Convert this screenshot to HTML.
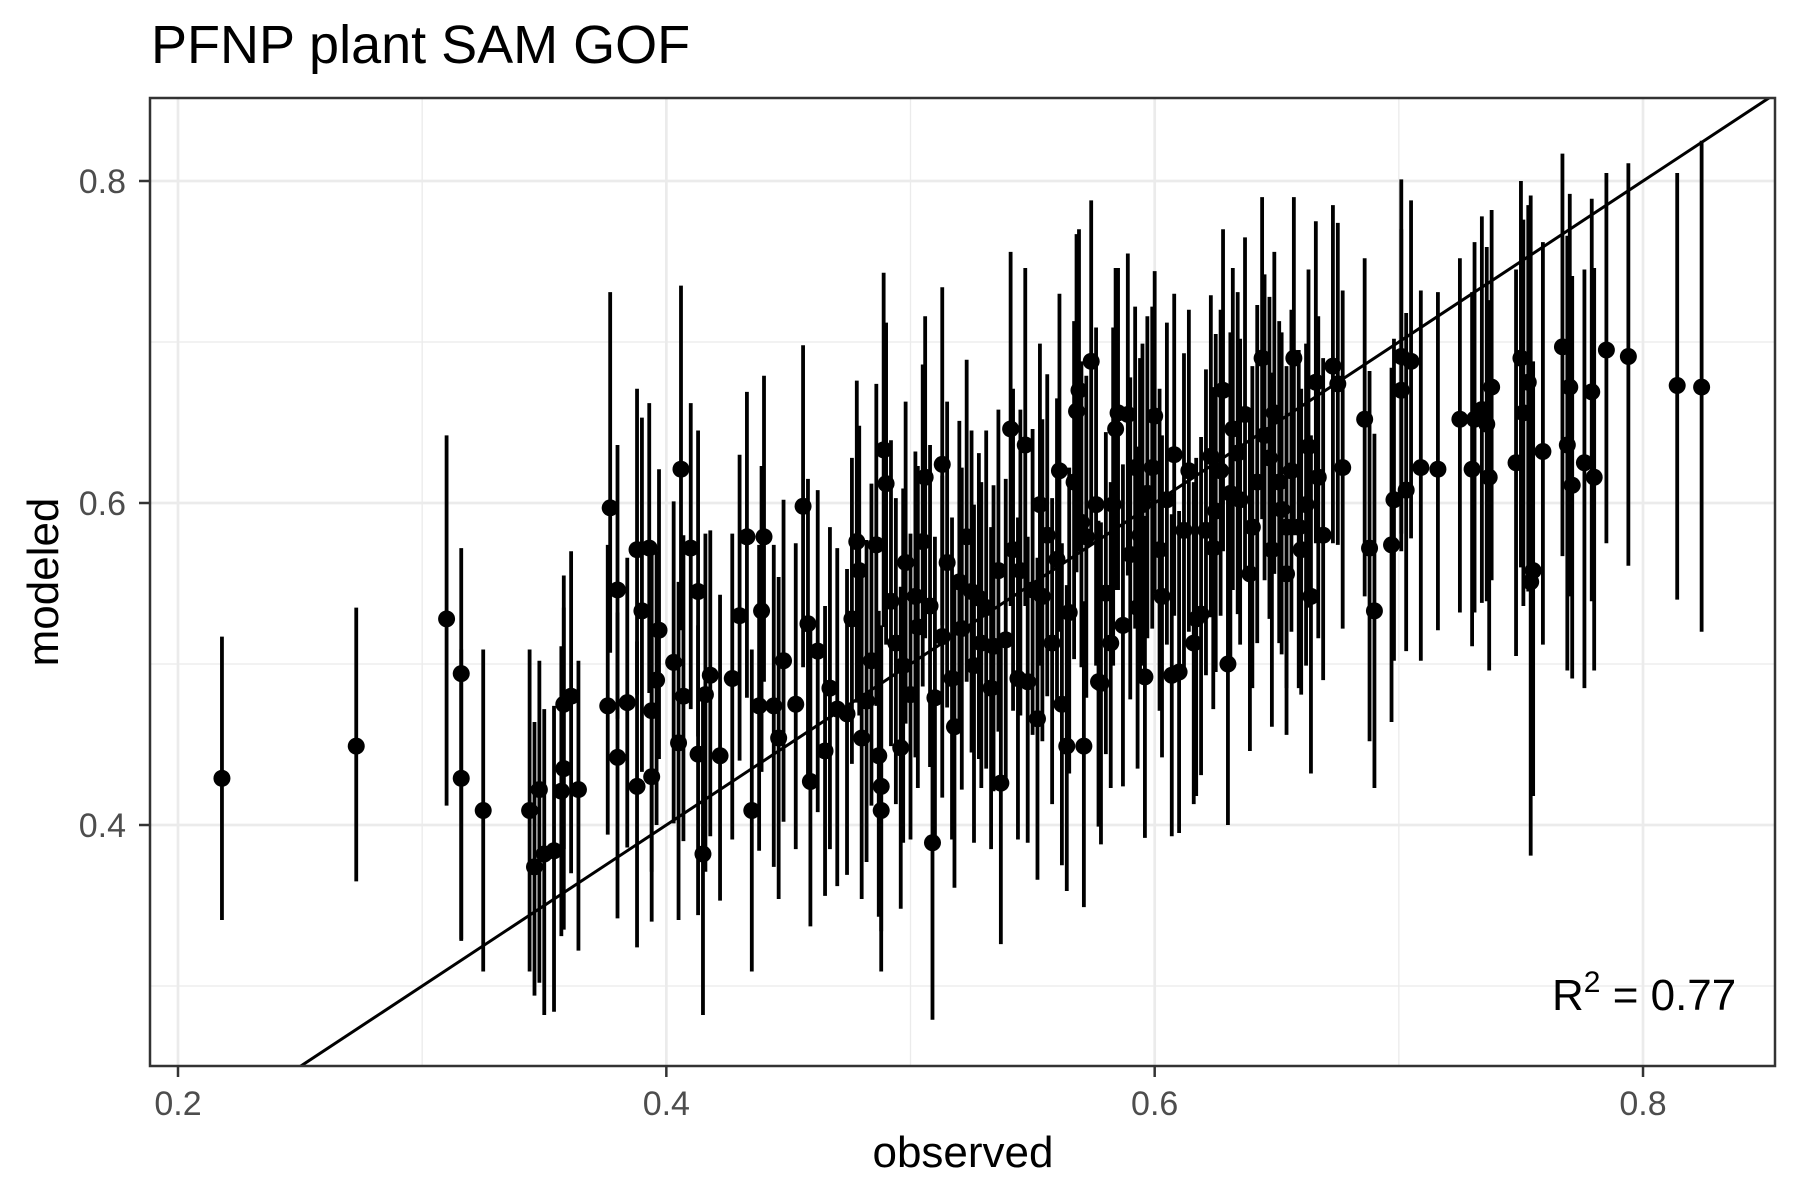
<!DOCTYPE html>
<html><head><meta charset="utf-8"><style>
html,body{margin:0;padding:0;background:#fff}
svg{display:block;font-family:"Liberation Sans",Arial,sans-serif}
</style></head><body>
<svg id="chart" width="1800" height="1200" viewBox="0 0 1800 1200">
<rect x="0" y="0" width="1800" height="1200" fill="#fff"/>
<text x="151" y="63" font-size="54" fill="#000">PFNP plant SAM GOF</text>
<g id="grid"></g>
<defs><clipPath id="pc"><rect x="150" y="98" width="1625" height="968"/></clipPath></defs>
<g id="marks" clip-path="url(#pc)"></g>
<rect x="150" y="98" width="1625" height="968" fill="none" stroke="#333" stroke-width="2.5"/>
<g id="axes"></g>
<text x="963" y="1167" font-size="44" text-anchor="middle" fill="#000">observed</text>
<text transform="translate(58,582) rotate(-90)" font-size="44" text-anchor="middle" fill="#000">modeled</text>
<text x="1552" y="1010" font-size="44" fill="#000">R<tspan dy="-18" font-size="30">2</tspan><tspan dy="18"> = 0.77</tspan></text>
</svg>
<script>
const xTicks=[0.2,0.4,0.6,0.8];
const yTicks=[0.4,0.6,0.8];
const xMinor=[0.3,0.5,0.7];
const yMinor=[0.3,0.5,0.7];
const observed=[
.218,.273,.310,.316,.316,.325,.344,.346,.348,.350,
.354,.357,.358,.358,.361,.364,.376,.377,.380,.380,
.384,.388,.388,.390,.393,.394,.394,.396,.397,.403,
.405,.406,.407,.410,.413,.413,.415,.416,.418,.422,
.427,.430,.433,.435,.438,.439,.440,.444,.446,.448,
.453,.456,.458,.459,.462,.465,.467,.470,.474,.476,
.478,.479,.480,.482,.484,.486,.487,.488,.488,.489,
.490,.492,.494,.496,.497,.498,.500,.502,.503,.505,
.506,.508,.509,.510,.513,.513,.515,.517,.518,.520,
.521,.523,.525,.526,.528,.529,.531,.533,.534,.536,
.537,.539,.541,.542,.544,.545,.547,.548,.550,.552,
.553,.554,.556,.558,.560,.561,.562,.564,.565,.567,
.568,.569,.570,.571,.572,.574,.576,.577,.578,.580,
.582,.583,.584,.585,.587,.589,.590,.592,.593,.594,
.595,.596,.597,.599,.600,.602,.603,.605,.607,.608,
.610,.612,.614,.616,.617,.619,.621,.623,.624,.625,
.627,.628,.630,.631,.632,.634,.635,.637,.639,.640,
.642,.644,.645,.647,.648,.649,.651,.652,.654,.654,
.656,.657,.659,.660,.662,.663,.664,.666,.667,.669,
.673,.675,.677,.686,.688,.690,.697,.698,.701,.701,
.703,.705,.709,.716,.725,.730,.731,.734,.736,.737,
.738,.748,.750,.751,.753,.754,.755,.759,.767,.769,
.770,.771,.776,.779,.780,.785,.794,.814,.824];
const modeled=[
.429,.449,.528,.494,.429,.409,.409,.374,.422,.382,
.384,.421,.435,.475,.480,.422,.474,.597,.546,.442,
.476,.424,.571,.533,.572,.471,.430,.490,.521,.501,
.451,.621,.480,.572,.545,.444,.382,.481,.493,.443,
.491,.530,.579,.409,.474,.533,.579,.474,.454,.502,
.475,.598,.525,.427,.508,.446,.485,.472,.469,.528,
.576,.558,.454,.477,.502,.574,.443,.424,.409,.633,
.612,.539,.513,.448,.499,.563,.481,.542,.523,.576,
.616,.536,.389,.479,.624,.517,.563,.491,.461,.551,
.522,.579,.545,.499,.541,.513,.535,.485,.511,.558,
.426,.515,.646,.571,.491,.558,.636,.489,.546,.466,
.599,.542,.580,.513,.565,.620,.475,.449,.532,.613,
.657,.670,.588,.449,.579,.688,.599,.489,.488,.544,
.513,.599,.646,.656,.524,.655,.568,.622,.535,.580,
.599,.492,.606,.622,.654,.571,.542,.602,.493,.630,
.495,.583,.620,.513,.528,.531,.583,.629,.572,.595,
.620,.670,.500,.606,.646,.631,.602,.655,.556,.585,
.613,.690,.642,.628,.571,.656,.613,.596,.585,.556,
.620,.690,.585,.571,.599,.635,.542,.675,.616,.580,
.685,.674,.622,.652,.572,.533,.574,.602,.691,.670,
.608,.688,.622,.621,.652,.621,.652,.658,.649,.616,
.672,.625,.690,.656,.675,.551,.558,.632,.697,.636,
.672,.611,.625,.669,.616,.695,.691,.673,.672];
const errLow=[
.088,.084,.116,.166,.10,.10,.10,.08,.12,.10,
.10,.09,.10,.09,.11,.10,.08,.09,.08,.10,
.09,.10,.09,.10,.09,.10,.09,.09,.08,.10,
.11,.10,.09,.10,.09,.10,.10,.11,.10,.09,
.10,.09,.10,.10,.09,.10,.09,.10,.10,.10,
.09,.10,.10,.09,.10,.09,.10,.11,.10,.09,
.10,.09,.10,.10,.09,.10,.10,.09,.10,.11,
.10,.09,.10,.10,.11,.10,.09,.10,.10,.09,
.10,.10,.11,.09,.10,.10,.09,.10,.10,.09,
.10,.09,.10,.11,.10,.09,.10,.10,.09,.10,
.10,.09,.11,.10,.10,.09,.10,.10,.09,.10,
.10,.09,.10,.10,.09,.10,.10,.09,.10,.11,
.10,.10,.09,.10,.10,.11,.10,.09,.10,.10,
.09,.10,.10,.11,.10,.10,.09,.10,.10,.09,
.10,.10,.09,.10,.11,.10,.10,.09,.10,.10,
.10,.09,.10,.10,.11,.10,.09,.10,.10,.10,
.09,.10,.10,.11,.10,.10,.09,.10,.11,.10,
.10,.10,.09,.10,.11,.10,.10,.09,.10,.10,
.10,.11,.10,.09,.10,.10,.11,.10,.10,.09,
.11,.10,.10,.11,.12,.11,.11,.10,.11,.10,
.10,.11,.12,.10,.12,.11,.12,.12,.11,.12,
.12,.12,.13,.12,.13,.17,.14,.12,.13,.14,
.13,.12,.14,.13,.12,.12,.13,.133,.152];
const errHigh=[
.088,.086,.114,.078,.08,.10,.10,.09,.08,.09,
.09,.09,.10,.08,.09,.08,.10,.134,.09,.09,
.09,.09,.10,.12,.09,.10,.09,.08,.10,.10,
.10,.114,.10,.09,.10,.08,.10,.10,.09,.10,
.09,.10,.09,.10,.10,.09,.10,.10,.10,.10,
.10,.10,.09,.10,.10,.09,.10,.10,.09,.10,
.10,.09,.10,.10,.11,.10,.09,.10,.10,.11,
.10,.10,.09,.10,.11,.10,.10,.09,.10,.11,
.10,.10,.09,.10,.11,.10,.10,.10,.09,.10,
.10,.11,.10,.10,.09,.10,.11,.10,.10,.10,
.09,.10,.11,.10,.10,.10,.11,.09,.10,.10,
.10,.11,.10,.09,.10,.11,.10,.10,.09,.10,
.11,.10,.10,.09,.10,.10,.11,.10,.10,.10,
.10,.11,.10,.09,.10,.10,.11,.10,.10,.11,
.10,.10,.11,.10,.09,.10,.10,.11,.10,.10,
.10,.11,.10,.10,.10,.11,.10,.10,.10,.11,
.10,.10,.11,.10,.10,.10,.10,.11,.10,.10,
.11,.10,.10,.10,.11,.10,.10,.11,.10,.10,
.10,.10,.11,.10,.10,.11,.10,.10,.10,.11,
.10,.10,.11,.10,.11,.11,.11,.10,.11,.10,
.11,.10,.11,.11,.10,.11,.11,.12,.11,.11,
.11,.12,.11,.12,.11,.24,.13,.13,.12,.13,
.12,.13,.12,.12,.13,.11,.12,.132,.153];

const NS='http://www.w3.org/2000/svg';
const PX0=150,PX1=1775,PY0=98,PY1=1066;
function X(v){return 178+(v-0.2)*2441.7;}
function Y(v){return 825-(v-0.4)*1610;}
function mk(tag,attrs,parent){const e=document.createElementNS(NS,tag);for(const k in attrs)e.setAttribute(k,attrs[k]);parent.appendChild(e);return e;}
const grid=document.getElementById('grid'),marks=document.getElementById('marks'),axes=document.getElementById('axes');
xMinor.forEach(v=>{const l=mk('line',{x1:X(v),x2:X(v),y1:PY0,y2:PY1,stroke:'#ebebeb','stroke-width':1.3},grid);

});
yMinor.forEach(v=>{const l=mk('line',{x1:PX0,x2:PX1,y1:Y(v),y2:Y(v),stroke:'#ebebeb','stroke-width':1.3},grid);

});
xTicks.forEach(v=>{const l=mk('line',{x1:X(v),x2:X(v),y1:PY0,y2:PY1,stroke:'#ebebeb','stroke-width':2.7},grid);


const t=mk('line',{x1:X(v),x2:X(v),y1:PY1,y2:PY1+11,stroke:'#333','stroke-width':2.5},axes);


const tx=mk('text',{x:X(v),y:1115,'font-size':34,fill:'#4d4d4d','text-anchor':'middle'},axes);
tx.textContent=v.toFixed(1);

});
yTicks.forEach(v=>{const l=mk('line',{x1:PX0,x2:PX1,y1:Y(v),y2:Y(v),stroke:'#ebebeb','stroke-width':2.7},grid);


const t=mk('line',{x1:PX0-11,x2:PX0,y1:Y(v),y2:Y(v),stroke:'#333','stroke-width':2.5},axes);


const tx=mk('text',{x:126,y:Y(v)+12,'font-size':34,fill:'#4d4d4d','text-anchor':'end'},axes);
tx.textContent=v.toFixed(1);

});
observed.forEach((o,i)=>{const m=modeled[i];
const b=mk('line',{x1:X(o),x2:X(o),y1:Y(m-errLow[i]),y2:Y(m+errHigh[i]),stroke:'#000','stroke-width':3.8},marks);

});
observed.forEach((o,i)=>{
const c=mk('circle',{cx:X(o),cy:Y(modeled[i]),r:8.5,fill:'#000'},marks);

});
const ref=mk('line',{x1:X(0.18),y1:Y(0.18),x2:X(0.9),y2:Y(0.9),stroke:'#000','stroke-width':3},marks);


</script>
</body></html>
